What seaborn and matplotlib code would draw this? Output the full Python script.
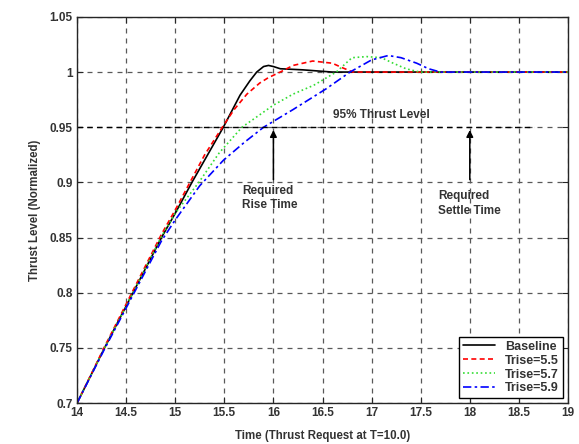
import numpy as np
import pandas as pd
import matplotlib
matplotlib.use("Agg")
import matplotlib.pyplot as plt
import seaborn as sns

# values
baseline_t = [14.0, 14.28, 14.57, 14.86, 15.0, 15.17, 15.33, 15.49, 15.66, 15.76, 15.83, 15.9, 15.95, 16.0, 16.07, 16.3, 16.6, 17.0, 19.0]
baseline_v = [0.7, 0.75, 0.8, 0.85, 0.872, 0.9, 0.925, 0.95, 0.979, 0.992, 1.0, 1.005, 1.006, 1.005, 1.003, 1.002, 1.0, 1.0, 1.0]

r55_t = [14.0, 14.28, 14.57, 14.86, 15.0, 15.15, 15.3, 15.48, 15.6, 15.73, 15.86, 15.95, 16.07, 16.2, 16.4, 16.6, 16.7, 16.81, 17.0, 19.0]
r55_v = [0.7, 0.751, 0.802, 0.853, 0.875, 0.9, 0.925, 0.95, 0.966, 0.98, 0.99, 0.995, 1.0, 1.006, 1.010, 1.008, 1.004, 1.0, 1.0, 1.0]

r57_t = [14.0, 14.28, 14.57, 14.86, 15.0, 15.24, 15.45, 15.68, 16.0, 16.2, 16.41, 16.64, 16.8, 16.95, 17.1, 17.22, 17.35, 17.49, 19.0]
r57_v = [0.7, 0.75, 0.8, 0.851, 0.872, 0.9, 0.927, 0.95, 0.970, 0.980, 0.988, 1.0, 1.013, 1.014, 1.013, 1.008, 1.003, 1.0, 1.0]

r59_t = [14.0, 14.28, 14.57, 14.86, 15.0, 15.25, 15.49, 15.7, 15.9, 16.2, 16.54, 16.78, 17.0, 17.17, 17.3, 17.46, 17.58, 17.7, 19.0]
r59_v = [0.7, 0.749, 0.798, 0.847, 0.866, 0.897, 0.92, 0.936, 0.95, 0.966, 0.985, 1.0, 1.011, 1.015, 1.013, 1.008, 1.003, 1.0, 1.0]

series = [
    ("Baseline", baseline_t, baseline_v, "black", "-"),
    ("Trise=5.5", r55_t, r55_v, "red", (0, (3, 2))),
    ("Trise=5.7", r57_t, r57_v, "#33dd33", ":"),
    ("Trise=5.9", r59_t, r59_v, "blue", (0, (5, 2, 1.5, 2))),
]

sns.set_style("ticks")
plt.rcParams["font.family"] = ["Liberation Sans", "DejaVu Sans"]
plt.rcParams["xtick.direction"] = "in"
plt.rcParams["ytick.direction"] = "in"

fig = plt.figure(figsize=(5.79, 4.44), dpi=100)
ax = fig.add_axes([0.133, 0.092, 0.848, 0.870])

for name, t, v, col, ls in series:
    df = pd.DataFrame({"t": t, "v": v})
    sns.lineplot(data=df, x="t", y="v", ax=ax, color=col, linestyle=ls,
                 linewidth=1.2, label=name, sort=False)

# 95% line
ax.plot([14, 18.65], [0.95, 0.95], color="black", linestyle=(0, (4, 3)), linewidth=1.0)
ax.text(17.1, 0.9615, "95% Thrust Level", ha="center", va="center", fontsize=8.5, fontweight="bold", color="#333333")

ax.annotate("", xy=(16.0, 0.95), xytext=(16.0, 0.9),
            arrowprops=dict(arrowstyle="-|>", color="black", lw=1.1, mutation_scale=10))
ax.annotate("", xy=(18.0, 0.95), xytext=(18.0, 0.9),
            arrowprops=dict(arrowstyle="-|>", color="black", lw=1.1, mutation_scale=10))
ax.text(15.68, 0.886, "Required\nRise Time", ha="left", va="center", fontsize=8.5,
        fontweight="bold", color="#333333", linespacing=1.3)
ax.text(17.68, 0.881, "Required\nSettle Time", ha="left", va="center", fontsize=8.5,
        fontweight="bold", color="#333333", linespacing=1.3)

ax.set_xlim(14, 19)
ax.set_ylim(0.7, 1.05)
xt = np.arange(14, 19.01, 0.5)
yt = np.arange(0.7, 1.0501, 0.05)
ax.set_xticks(xt)
ax.set_yticks(yt)
ax.set_xticklabels(["%g" % x for x in xt], fontsize=8.5, fontweight="bold", color="#333333")
ax.set_yticklabels(["%g" % round(y, 2) for y in yt], fontsize=8.5, fontweight="bold", color="#333333")
ax.tick_params(top=True, right=True, length=4, width=0.8)
ax.tick_params(axis="x", pad=3)
ax.tick_params(axis="y", pad=3)
ax.grid(True, color="0.35", linestyle=(0, (4, 4)), linewidth=0.9)
for s in ax.spines.values():
    s.set_linewidth(1.0)

ax.set_xlabel("Time (Thrust Request at T=10.0)", fontsize=8.3, fontweight="bold", labelpad=8, color="#333333")
ax.set_ylabel("Thrust Level (Normalized)", fontsize=8.3, fontweight="bold", labelpad=6, color="#333333")

leg = ax.legend(loc="lower right", prop={"weight": "bold", "size": 9},
                frameon=True, fancybox=False, edgecolor="black", handlelength=2.6,
                borderaxespad=0.4, labelspacing=0.15, borderpad=0.3, framealpha=1)
leg.get_frame().set_linewidth(1.0)
for txt in leg.get_texts():
    txt.set_color("#333333")

fig.savefig("out.png", dpi=100)
